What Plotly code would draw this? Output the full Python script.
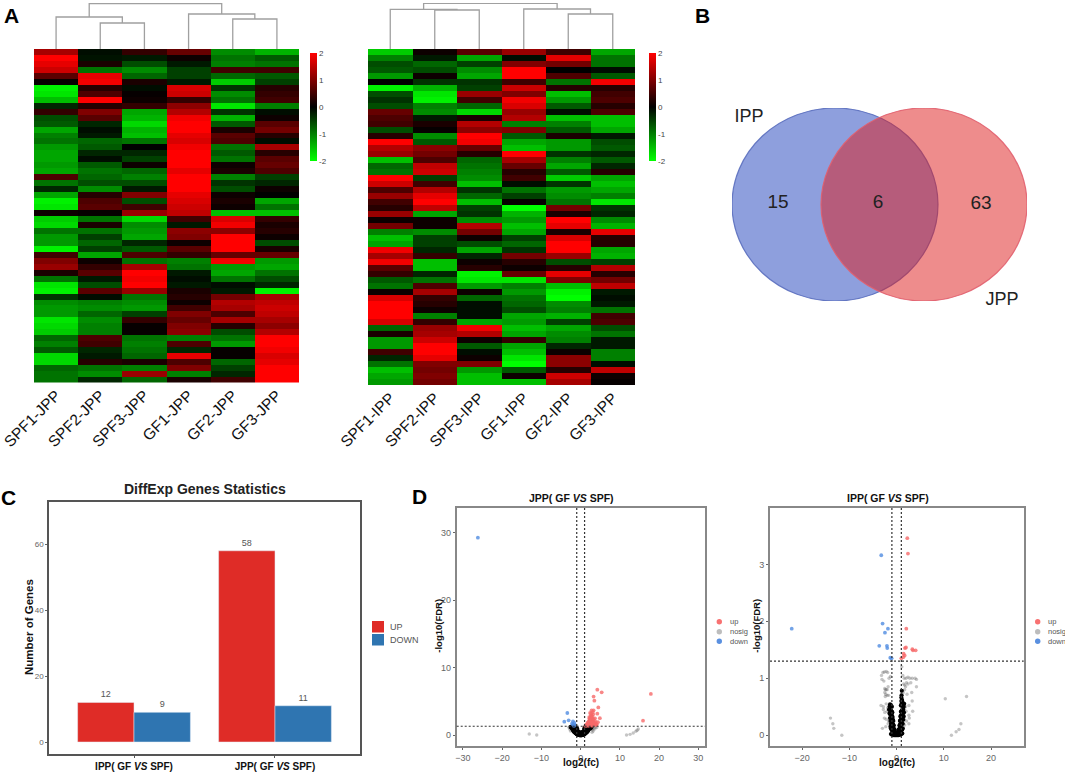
import plotly.graph_objects as go

# figure size in px, everything in paper coords is derived from this
W = 1065
H = 772
FONT = "Liberation Sans"

# --- panel A, left heatmap ---
jpp_samples = ["SPF1-JPP", "SPF2-JPP", "SPF3-JPP", "GF1-JPP", "GF2-JPP", "GF3-JPP"]
jpp_spf1 = [1.3, 2, 1.8, 1.6, .7, .05, -1.9, -1.8, -1.5, -.3, .4, -.6, -.7, -1.3, -1.0, -.9, -1.2, -1.3, -1.3, -1.2, -1.3, .6, -.9, -.3, -1.3, -1.9, -1.8, .1, -1.6, -1.7,
            -.9, -1.2, -1.2, -1.9, .5, 1.0, 1.2, .2, -.9, -1.8, -1.9, -.4, -1.1, -1.2, -1.2, -1.8, -1.7, -1.6, -.8, -1, -.7, -1.7, -1.7, -.8, -.9, -.9]
jpp_spf2 = [-.1, -.15, .2, -.9, 1.8, 1.9, .3, .6, 2, .3, 1.0, .7, -.3, -.1, -.2, -.8, -.7, -.3, -.1, -.7, -.9, -.8, -.6, -1.1, .3, .6, .7, .05, -.9, .2,
            -.9, -.5, -.8, -.5, -1.3, .1, .4, .7, -.2, -.6, .7, -.1, -1.0, -1.1, -.8, -1.1, -1.0, -1.0, .6, .5, -.3, -.2, .3, -.9, -1.1, -.3]
jpp_spf3 = [.4, -.2, -.6, -1.1, -.8, .2, -.1, .05, .1, .4, -1.3, -1.4, -1.7, -1.4, -1.5, -.9, 0, -.3, -.5, .1, -.8, -1, -.6, -.2, 1.0, -.6, .5, 1.2, -1.7, -1.1,
            -1.2, -1.3, -.3, -.7, .6, -.9, 1.3, 2, 1.9, 2, 1.2, -.9, -1.1, -1.2, -.5, .4, .05, .05, -.9, -1, -.9, -.8, .2, -1, 1.2, -.8]
jpp_gf1 = [.8, .1, -.2, -.5, -.5, -.2, 1.7, 1.6, .4, 1.1, 1.4, 1.9, 2, 2, 1.8, 1.7, 1.9, 2, 2, 2, 1.8, 2, 2, 2, 1.8, 1.7, 1.6, 1.5, .5, -.2,
           1.1, 1.0, .1, .7, .4, -1.0, -.9, -.2, -.1, -.2, .2, .3, .1, .5, 1.0, .8, 1.0, 1.1, -1, .6, -.3, 1.8, .6, 1.0, -1, .2]
jpp_gf2 = [-1.1, -.9, -1.0, .5, -.8, -1.6, -.4, -1.1, -.9, -1.8, -.4, -1.4, -.7, .2, .7, .6, -.9, -.7, -.9, .1, .2, -1, -.4, -.6, .1, .2, .1, -1.5, 1.7, 1.9,
           1.1, 2, 2, 2, .8, 1.9, -1.2, -1.3, -.9, -.1, -.2, .9, 1.4, 1.3, .6, 1.3, .3, -.6, -.9, -1.2, .05, .05, -.8, -.5, -.3, .5]
jpp_gf3 = [-1.4, -.7, -.9, .5, -.7, -.5, .3, .4, .5, -1.0, -.1, .1, .7, .9, .3, -.1, 1.3, .3, .7, .8, .6, -.5, -.3, .1, 0, -1.3, -.9, -1.5, .4, .2,
           .3, .1, -.6, .2, .8, -1.2, -1.3, -.9, -.6, -.3, -1.9, 1.3, 1.5, 1.6, 1.5, 1.3, 1.1, 1.4, 2, 2, 1.9, 1.7, 1.8, 2, 2, 2]

# --- panel A, right heatmap ---
ipp_samples = ["SPF1-IPP", "SPF2-IPP", "SPF3-IPP", "GF1-IPP", "GF2-IPP", "GF3-IPP"]
ipp_spf1 = [-1.6, -1.0, -.6, -.7, -1.2, 0, -1.9, -.6, -.4, -.6, .8, .6, .5, -.6, .3, 2, 1.4, 1.2, -1.5, -.8, -.9, 2, 1.6, .6, 1.2, .5, .3, 1.2, .1, .9,
            -1, -1.5, -1.3, 1.9, 1.3, 1.9, .7, .4, -.7, -.9, .1, 1.7, 2, 2, 2, 1.7, -.8, .2, -1.2, -1.2, .5, -.3, -.9, -1.5, -1.3, -1.2]
ipp_spf2 = [.1, -.2, -.8, -.6, .1, -.4, -1.4, -1.8, -1.9, -1, -1.1, -.2, .2, .05, -1.1, -.7, 1.1, .9, .6, 1.5, 1.6, -.5, .5, 1.4, 1.8, 2, 1.5, -1.3, .1, .1,
            -1.1, -.5, -.5, -.3, .4, -1.5, -1.5, -.3, -.9, .6, 1.3, .4, .3, .1, -1, .4, 1.2, 1.3, 1.6, 2, 2, 1.8, 1, .9, 1, .9]
ipp_spf3 = [.7, -1.3, -.5, -1.1, -1.3, -.4, -.5, 1.2, .5, -.8, -1.7, .2, 1.4, 1.1, 2, 1.9, .8, .3, -.8, -.9, -1, -1.1, -1.5, -.4, -.8, -1.5, -.5, -.4, -1.1, 1.4,
            .9, .1, -.6, -1.3, -.3, .1, .3, -1.9, -1.8, -1.2, .1, -.8, -.1, -.1, -.1, -1.3, 1.9, 1.4, .1, -.7, -.1, .1, 1.0, -1.2, -1.5, -1.5]
ipp_gf1 = [1.2, -.1, 1, 2, 2, .5, 1.6, 1, 1.9, 1.7, 1.2, 1.4, -1, 1.0, -.7, -1.3, -1.5, 2, 1.3, .8, .3, .5, -.1, -.9, -.5, .05, -2, -1.4, -1.2, -1.5,
           -1.3, -.5, -.8, -.4, .9, .3, .1, .8, -1.8, -1.0, -1.2, -.9, -.8, -.6, -1.3, -1.2, -1.5, -1.3, .4, -1.3, -1.5, -1.8, -2, -.7, .1, -1.5]
ipp_gf2 = [.5, 1.8, .9, 0, .6, -.9, .3, -1.5, -1.2, -.7, -.1, -1.5, -1.0, -.7, .2, -1.2, -1.2, -.4, -1, -1.3, -.7, -1.6, -.4, -1.2, -1.1, -.9, .9, .2, 2, 1.8,
           .2, 1.7, 2, 2, 1.2, -.6, .3, 1.8, 1, -1.5, -1.9, -2, -1.1, -1, -1.4, -.5, -1.3, -1.1, -1.0, -.3, .1, 1.1, 1.1, .3, 1.6, 1.3]
ipp_gf3 = [-1.3, -.9, -.9, -.1, -.7, 1.9, .3, .5, .6, .3, .6, -1.5, -1.5, -1.3, -.2, -.6, -.7, -.3, -.7, -.3, .3, -1.3, -1.5, -1.3, -1.0, -1.8, -.4, -.3, -1.1, -1.4,
           1.8, .3, .3, -1.3, -1.4, -.5, 1.4, .3, .9, 1.5, -.2, -.1, -.2, -.9, .5, .6, -.6, -.9, -.2, -.2, -1.0, -1, -.1, 1.5, .1, .05]

# dendrograms: left child pos, right child pos, left child height, right child height, merge height
jpp_tree = [(1, 2, 0, 0, 26), (0, 1.5, 0, 26, 32), (4, 5, 0, 0, 30), (3, 4.5, 0, 30, 35), (0.75, 3.75, 32, 35, 45.5)]
ipp_tree = [(1, 2, 0, 0, 39), (0, 1.5, 0, 39, 39.7), (4, 5, 0, 0, 35), (3, 4.5, 0, 35, 40), (0.75, 3.75, 39.7, 40, 45.7)]

# --- panel B ---
venn_x0 = [0, 89]
venn_x1 = [206, 295]
venn_y0 = [0, 0]
venn_y1 = [193, 193]
venn_fill = ["rgba(29,63,187,0.5)", "rgba(221,25,25,0.5)"]
venn_edge = ["rgba(90,110,190,0.9)", "rgba(225,95,110,0.9)"]
venn_counts = ["15", "6", "63"]
venn_count_x = [46, 146, 249]
venn_count_y = [95, 95, 96]
venn_names = ["IPP", "JPP"]
venn_name_x = [17, 270]
venn_name_y = [9, 192]

# --- panel C ---
bar_groups = ["<b>IPP( GF <i>VS</i> SPF)</b>", "<b>JPP( GF <i>VS</i> SPF)</b>"]
bar_up = [12, 58]
bar_down = [9, 11]

# --- panel D, JPP volcano ---
jpp_up_x = [1.2, 1.5, 1.8, 2.0, 2.2, 2.4, 2.6, 2.8, 3.0, 1.6, 1.9, 2.2, 2.5, 2.8, 3.1, 3.4, 2.0, 2.3, 2.6, 2.9, 3.2, 3.6, 2.2, 2.5, 2.8, 3.1, 3.66, 4.9,
            2.4, 3.2, 4.25, 2.8, 3.3, 4.5, 3.3, 3.5, 4.25, 5.36, 15.9, 17.9, 4.0, 4.4, 2.2, 2.7,
            1.3, 1.7, 2.1, 2.4, 2.7, 3.0, 3.3, 3.7, 4.1, 1.8, 2.2, 2.6, 3.0, 3.4, 3.8, 2.5, 2.9, 3.3, 2.6, 3.0, 2.7, 3.1]
jpp_up_y = [1.35, 1.4, 1.38, 1.4, 1.42, 1.45, 1.5, 1.4, 1.4, 1.6, 1.7, 1.75, 1.8, 1.7, 1.65, 1.6, 2.0, 2.1, 2.2, 2.0, 1.95, 1.8, 2.4, 2.5, 2.6, 2.3, 2.48, 2.5,
            3.27, 3.07, 3.17, 3.66, 3.66, 4.1, 5.7, 5.1, 6.73, 6.34, 2.13, 6.1, 1.5, 1.9, 2.67, 2.9,
            1.5, 1.55, 1.55, 1.6, 1.55, 1.55, 1.5, 1.5, 1.6, 1.85, 1.95, 1.95, 1.85, 1.85, 2.0, 2.35, 2.4, 2.35, 2.8, 2.75, 3.2, 3.4]
jpp_down_x = [-26.2, -3.4, -3.06, -4.17, -1.95, -1.95, -1.7, -1.5, -2.2, -1.6]
jpp_down_y = [29.3, 3.27, 2.18, 1.98, 2.03, 1.53, 1.35, 1.5, 1.7, 1.8]
jpp_dense_x = [-2.5, -2.3, -2.1, -2.0, -1.9, -1.8, -1.7, -1.6, -1.5, -1.4, -1.3, -1.2, -1.1, -1.0, -.9, -.8, -.7, -.6, -.5, -.4, -.3, -.2, -.1, 0, .1, .2, .3, .4, .5, .6, .7, .8, .9, 1.0, 1.1,
               1.2, 1.3, 1.4, 1.5, 1.6, 1.7, 1.8, 1.9, 2.0, 2.1, 2.2, 2.3, 2.4, 2.6, 2.8,
               -2.0, -1.8, -1.6, -1.4, -1.2, -1.0, -.8, -.6, -.4, -.2, 0, .2, .4, .6, .8, 1.0, 1.2, 1.4, 1.6, 1.8, 2.0, 2.2, 2.4,
               -1.7, -1.5, -1.3, -1.1, -.9, 1.0, 1.2, 1.4, 1.6, 1.8, 2.0, 2.2, 2.5]
jpp_dense_y = [1.2, 1.1, .95, .85, .75, .65, .6, .5, .45, .4, .33, .3, .25, .2, .16, .13, .1, .07, .05, .03, .02, .01, 0, 0, 0, .01, .02, .03, .05, .07, .1, .13, .16, .2, .25,
               .3, .33, .4, .45, .5, .6, .65, .75, .85, .95, 1.0, 1.1, 1.2, 1.25, 1.25,
               1.25, 1.2, 1.1, .95, .85, .7, .55, .45, .38, .32, .3, .32, .38, .45, .55, .7, .85, .95, 1.1, 1.2, 1.25, 1.25, 1.25,
               1.25, 1.25, 1.15, 1.05, .9, 1.0, 1.15, 1.25, 1.25, 1.25, 1.25, 1.25, 1.0]
jpp_sparse_x = [-13.1, -11.2, 11.7, 12.6, 13.4, 14.1, 14.7, 14.4, 3.0, 3.3, 3.6, 4.1, 3.2, 3.8, 2.9, -2.8, -3.0, -2.6]
jpp_sparse_y = [.15, 0, 0, .1, .3, .55, .9, .7, .8, 1.0, .9, 1.1, .6, 1.2, .4, .9, 1.15, .6]

# --- panel D, IPP volcano ---
ipp_up_x = [2.26, 2.4, 2.05, 1.77, 1.98, 3.32, 3.46, 4.03, 1.48, 1.7, 1.41, 1.0]
ipp_up_y = [3.46, 3.19, 1.87, 1.53, 1.54, 1.51, 1.49, 1.49, 1.43, 1.4, 1.37, 1.35]
ipp_down_x = [-3.25, -22.2, -2.97, -1.84, -2.47, -3.67, -2.05, -1.98, -1.34, -1.06]
ipp_down_y = [3.16, 1.87, 1.96, 1.87, 1.8, 1.57, 1.57, 1.53, 1.36, 1.35]
ipp_dense_x = [-1.2, -1.0, -.8, -.6, -.4, -.2, 0, .2, .4, .6, .8, 1.0, 1.2,
               -.9, -.7, -.5, -.3, -.1, .1, .3, .5, .7, .9,
               -.8, -.7, -.6, -.5, -.45, .45, .5, .6, .7, .8, .9,
               -1.0, -.9, -.8, -.7, -.6, .6, .7, .8, .9, 1.0, 1.1,
               -1.1, -1.0, -.9, -.8, -.7, .7, .8, .9, 1.0, 1.1, 1.2,
               -1.3, -1.2, -1.1, -1.0, -.9, .8, .9, 1.0, 1.1, 1.2, 1.3,
               -1.4, -1.3, -1.2, -1.1, -1.0, .9, 1.0, 1.1, 1.2, 1.3, 1.4,
               -1.4, -1.2, -1.0, .9, 1.05, 1.2, 1.4, 1.0, 1.15, 1.05,
               -1.5, -1.6, -1.5, -1.4, -1.3, -1.2, -1.3, -1.2, -1.1, -1.0, -.9, -.85,
               1.5, 1.6, 1.55, 1.5, 1.4, 1.3, 1.3, 1.2, 1.1, 1.1, 1.0, 1.25]
ipp_dense_y = [.02, .01, .01, 0, 0, 0, 0, 0, 0, .01, .01, .02, .03,
               .07, .06, .05, .05, .05, .05, .05, .05, .06, .07,
               .13, .12, .11, .1, .1, .1, .1, .11, .12, .13, .14,
               .2, .2, .19, .18, .17, .17, .18, .19, .2, .2, .21,
               .28, .28, .27, .26, .25, .25, .26, .27, .28, .28, .28,
               .36, .36, .35, .34, .33, .33, .34, .35, .36, .36, .37,
               .44, .44, .43, .42, .41, .41, .42, .43, .44, .44, .45,
               .54, .53, .5, .52, .55, .52, .48, .6, .62, .7,
               .5, .45, .38, .3, .25, .2, .15, .12, .1, .12, .4, .3,
               .5, .55, .4, .33, .27, .2, .12, .1, .1, .78, .66, .58]
ipp_sparse_x = [-14, -13.5, -13.3, -11.6, 11.6, 12.6, 13.2, 13.6, 10.3, 14.8,
                -3.2, -2.9, -2.6, -2.2, -1.9, -1.6, -1.3, 1.1, 1.3, 1.6, 2.0, 2.4, 2.8, 3.3, 3.9, 4.2,
                -3.1, -2.7, -2.5, -2.4, -2.2, -2.0, -1.8, 1.5, 1.7, 1.9, 2.1, 2.4, 3.0, 4.2,
                -2.5, -2.3, -2.4, -2.0, -1.7, 1.4, 1.7, 2.2, 3.2,
                -3.3, -2.8, -2.2, -1.9, 1.6, 1.9, 2.6, 3.3,
                -2.8, -2.5, -2.0, -1.6, 1.6, 2.0, 2.6, 3.4,
                -2.6, -2.2, -1.7, 1.6, 2.1, 2.7,
                -3.0, -2.3, -1.8, 1.7, 2.6]
ipp_sparse_y = [.3, .2, .12, 0, 0, .06, .1, .2, .64, .68,
                1.05, 1.1, 1.11, 1.12, 1.1, 1.0, 1.03, 1.2, 1.05, 1.0, 1.0, 1.02, 1.0, 1.0, 1.0, .98,
                .98, .95, .82, .8, .8, .8, .85, .9, .88, .85, .92, .9, .92, .85,
                .75, .72, .68, .7, .7, .75, .8, .72, .75,
                .52, .5, .55, .48, .55, .5, .52, .6,
                .45, .4, .42, .4, .4, .42, .35, .42,
                .3, .28, .25, .28, .25, .3,
                .12, .15, .2, .18, .2]

threshold_fc = [-1, 1]
threshold_fdr = 1.3


def px(x):
    return x / W


def py(y):
    return 1 - y / H


def dom_x(a, b):
    return [px(a), px(b)]


def dom_y(top, bottom):
    return [py(bottom), py(top)]


def tree_lines(tree):
    xs = []
    ys = []
    for x0, x1, h0, h1, top in tree:
        xs += [x0, x0, x1, x1, None]
        ys += [h0, top, top, h1, None]
    return xs, ys


fig = go.Figure()

# heatmaps
hm_scale = [[0, "#00ff00"], [0.5, "#000000"], [1, "#ff0000"]]
jpp_columns = [jpp_spf1, jpp_spf2, jpp_spf3, jpp_gf1, jpp_gf2, jpp_gf3]
ipp_columns = [ipp_spf1, ipp_spf2, ipp_spf3, ipp_gf1, ipp_gf2, ipp_gf3]


def colorbar_at(x):
    return dict(x=px(x), xanchor="left", y=py(52.7), yanchor="top", len=107.5, lenmode="pixels",
                thickness=7, thicknessmode="pixels", xpad=0, ypad=0, outlinewidth=0,
                tickvals=[-2, -1, 0, 1, 2], ticktext=["-2", "-1", "0", "1", "2"], ticks="",
                tickfont=dict(size=8, color="#444", family=FONT))


fig.add_trace(go.Heatmap(z=[list(r) for r in zip(*jpp_columns)], x=list(range(6)), colorscale=hm_scale, zmin=-2, zmax=2,
                         colorbar=colorbar_at(310), xaxis="x", yaxis="y", hoverinfo="skip"))
fig.add_trace(go.Heatmap(z=[list(r) for r in zip(*ipp_columns)], x=list(range(6)), colorscale=hm_scale, zmin=-2, zmax=2,
                         colorbar=colorbar_at(649), xaxis="x2", yaxis="y3", hoverinfo="skip"))

# dendrograms
for tree, xa, ya in [(jpp_tree, "x", "y2"), (ipp_tree, "x2", "y4")]:
    tx, ty = tree_lines(tree)
    fig.add_trace(go.Scatter(x=tx, y=ty, mode="lines", line=dict(color="#a0a0a0", width=1.3),
                             xaxis=xa, yaxis=ya, showlegend=False, hoverinfo="skip"))

# bars
fig.add_trace(go.Bar(x=bar_groups, y=bar_up, name="UP", marker=dict(color="#DF2C27"), text=bar_up, textposition="outside",
                     textfont=dict(size=9, color="#555", family=FONT), cliponaxis=False, xaxis="x3", yaxis="y5", showlegend=False))
fig.add_trace(go.Bar(x=bar_groups, y=bar_down, name="DOWN", marker=dict(color="#2F75B1"), text=bar_down, textposition="outside",
                     textfont=dict(size=9, color="#555", family=FONT), cliponaxis=False, xaxis="x3", yaxis="y5", showlegend=False))

# volcanoes
UP_COLOR = "rgba(246,105,105,0.8)"
DOWN_COLOR = "rgba(80,140,225,0.8)"
GREY_COLOR = "rgba(90,90,90,0.35)"
volcano = [
    (jpp_sparse_x, jpp_sparse_y, GREY_COLOR, 3.4, "x4", "y6"),
    (jpp_dense_x, jpp_dense_y, "#000000", 4.6, "x4", "y6"),
    (jpp_up_x, jpp_up_y, UP_COLOR, 3.8, "x4", "y6"),
    (jpp_down_x, jpp_down_y, DOWN_COLOR, 3.8, "x4", "y6"),
    (ipp_sparse_x, ipp_sparse_y, GREY_COLOR, 3.4, "x5", "y7"),
    (ipp_dense_x, ipp_dense_y, "#000000", 4.2, "x5", "y7"),
    (ipp_up_x, ipp_up_y, UP_COLOR, 3.8, "x5", "y7"),
    (ipp_down_x, ipp_down_y, DOWN_COLOR, 3.8, "x5", "y7"),
]
for vx, vy, col, size, xa, ya in volcano:
    fig.add_trace(go.Scatter(x=vx, y=vy, mode="markers", marker=dict(color=col, size=size, line=dict(width=0)),
                             xaxis=xa, yaxis=ya, showlegend=False, hoverinfo="skip"))

# venn labels
fig.add_trace(go.Scatter(x=venn_count_x, y=venn_count_y, mode="text", text=venn_counts, textposition="middle center",
                         textfont=dict(size=19, color="#222", family=FONT), xaxis="x6", yaxis="y8", showlegend=False, hoverinfo="skip", cliponaxis=False))
fig.add_trace(go.Scatter(x=venn_name_x, y=venn_name_y, mode="text", text=venn_names, textposition="middle center",
                         textfont=dict(size=18, color="#222", family=FONT), xaxis="x6", yaxis="y8", showlegend=False, hoverinfo="skip", cliponaxis=False))

shapes = []
for i in range(2):
    shapes.append(dict(type="circle", xref="x6", yref="y8", x0=venn_x0[i], x1=venn_x1[i], y0=venn_y0[i], y1=venn_y1[i],
                       fillcolor=venn_fill[i], line=dict(color=venn_edge[i], width=1.2), layer="below"))

# thresholds in the volcano plots
for xa, ya in [("x4", "y6"), ("x5", "y7")]:
    for fc in threshold_fc:
        shapes.append(dict(type="line", xref=xa, yref=ya + " domain", x0=fc, x1=fc, y0=0, y1=1,
                           line=dict(color="#333", width=1.2, dash="2px,2px")))
    shapes.append(dict(type="line", xref=xa + " domain", yref=ya, x0=0, x1=1, y0=threshold_fdr, y1=threshold_fdr,
                       line=dict(color="#333", width=1.2, dash="2px,2px")))

annotations = []


def add_text(text, x, y, size, color="#000", xanchor="center", angle=0):
    annotations.append(dict(text=text, x=px(x), y=py(y), xref="paper", yref="paper", showarrow=False, xanchor=xanchor,
                            yanchor="middle", textangle=angle, font=dict(size=size, color=color, family=FONT)))


# panel letters
add_text("<b>A</b>", 11, 16, 21)
add_text("<b>B</b>", 702, 16, 21)
add_text("<b>C</b>", 8, 498, 21)
add_text("<b>D</b>", 419, 497, 21)

add_text("<b>DiffExp Genes Statistics</b>", 205, 489, 14, "#222")
add_text("<b>JPP( GF <i>VS</i> SPF)</b>", 571, 498, 10.5, "#111")
add_text("<b>IPP( GF <i>VS</i> SPF)</b>", 888, 498, 10.5, "#111")
# axis titles placed by hand, plotly's standoff cannot get close enough to the ticks
add_text("<b>Number of Genes</b>", 29, 627, 11.5, "#111", angle=-90)
add_text("<b>-log10(FDR)</b>", 437.7, 626, 9.5, "#111", angle=-90)
add_text("<b>-log10(FDR)</b>", 755.7, 626, 9.5, "#111", angle=-90)
add_text("<b>log2(fc)</b>", 581, 762.7, 10, "#111")
add_text("<b>log2(fc)</b>", 897, 762.7, 10, "#111")

# bar legend keys
for label, col, top in [("UP", "#DF2C27", 621), ("DOWN", "#2F75B1", 634)]:
    shapes.append(dict(type="rect", xref="paper", yref="paper", x0=px(372), x1=px(384), y0=py(top), y1=py(top + 11.5),
                       fillcolor=col, line=dict(width=0)))
    add_text(label, 388, top + 6, 9, "#555", xanchor="left")

# volcano legend keys
for cx, tx in [(719.3, 728), (1037.7, 1046)]:
    for label, col, cy in [("up", "#F87171", 621.7), ("nosig", "#BDBDBD", 631.7), ("down", "#5A90E0", 641.3)]:
        shapes.append(dict(type="circle", xref="paper", yref="paper", x0=px(cx - 2.7), x1=px(cx + 2.7), y0=py(cy + 2.7), y1=py(cy - 2.7),
                           fillcolor=col, line=dict(width=0)))
        add_text(label, tx, cy, 7.5, "#555", xanchor="left")


def hm_x(a, b, labels, anchor):
    return dict(domain=dom_x(a, b), range=[-0.5, 5.5], anchor=anchor, tickmode="array", tickvals=list(range(6)), ticktext=labels,
                tickangle=-45, ticks="", showgrid=False, zeroline=False, showline=False, automargin=False,
                tickfont=dict(size=15.5, color="#111", family=FONT))


def hidden_y(top, bottom, rng, anchor):
    return dict(domain=dom_y(top, bottom), range=rng, anchor=anchor, visible=False, showgrid=False, zeroline=False, automargin=False)


def frame_axis(dom, rng, anchor, tickvals, color, width, tick_size):
    return dict(domain=dom, range=rng, anchor=anchor, tickmode="array", tickvals=tickvals, showline=True, mirror=True,
                linecolor=color, linewidth=width, showgrid=False, zeroline=False, ticks="outside", ticklen=2, automargin=False,
                tickcolor="#666", tickwidth=1, tickfont=dict(size=tick_size, color="#666", family=FONT))


layout = dict(
    width=W, height=H, margin=dict(l=0, r=0, t=0, b=0, pad=0, autoexpand=False), paper_bgcolor="white", plot_bgcolor="rgba(0,0,0,0)",
    font=dict(family=FONT), showlegend=False, barmode="group", bargap=0.2, bargroupgap=0,
    shapes=shapes, annotations=annotations,
    xaxis=hm_x(34, 299, jpp_samples, "y"),
    yaxis=hidden_y(49, 382.5, [55.5, -0.5], "x"),
    yaxis2=hidden_y(3, 49, [0, 46], "x"),
    xaxis2=hm_x(368, 635, ipp_samples, "y3"),
    yaxis3=hidden_y(49, 385, [55.5, -0.5], "x2"),
    yaxis4=hidden_y(3, 49, [0, 46], "x2"),
)

bar_x = frame_axis(dom_x(49, 360), [-0.603, 1.603], "y5", None, "#555", 1.6, 10)
bar_x.update(tickmode="auto", type="category", tickfont=dict(size=10, color="#111", family=FONT), tickcolor="#555")
bar_y = frame_axis(dom_y(502, 754), [-3.64, 72.8], "x3", [0, 20, 40, 60], "#555", 1.6, 8)
layout["xaxis3"] = bar_x
layout["yaxis5"] = bar_y

layout["xaxis4"] = frame_axis(dom_x(456.7, 705), [-31.6, 31.7], "y6", [-30, -20, -10, 0, 10, 20, 30], "#888", 1.8, 9)
layout["yaxis6"] = frame_axis(dom_y(508, 746), [-1.63, 33.7], "x4", [0, 10, 20, 30], "#888", 1.8, 9)

layout["xaxis5"] = frame_axis(dom_x(770, 1023.7), [-26.8, 26.9], "y7", [-20, -10, 0, 10, 20], "#888", 1.8, 9)
layout["yaxis7"] = frame_axis(dom_y(508, 746), [-0.19, 3.99], "x5", [0, 1, 2, 3], "#888", 1.8, 9)

layout["xaxis6"] = dict(domain=dom_x(732, 1027), range=[0, 295], anchor="y8", visible=False)
layout["yaxis8"] = dict(domain=dom_y(108, 301), range=[193, 0], anchor="x6", visible=False)

fig.update_layout(**layout)
fig.write_html("out.html", config=dict(displayModeBar=False), post_script="document.body.style.margin='0';")
